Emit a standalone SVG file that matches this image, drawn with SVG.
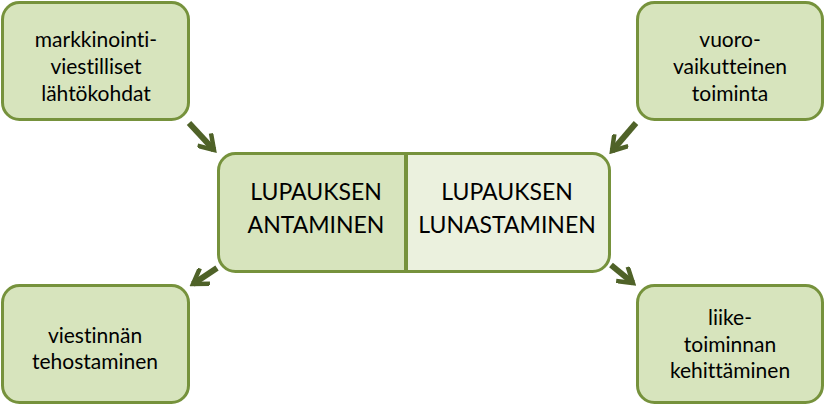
<svg xmlns="http://www.w3.org/2000/svg" width="825" height="406" viewBox="0 0 825 406">
<style>
.box{fill:#d7e4bd;stroke:#76923c;stroke-width:3}
.t{font-family:Lato,"Liberation Sans",sans-serif;font-size:21px;fill:#000;text-anchor:middle;font-variant-ligatures:none;font-feature-settings:"liga" 0,"dlig" 0}
.c{font-family:Lato,"Liberation Sans",sans-serif;font-size:23px;fill:#000;text-anchor:middle;font-variant-ligatures:none}
.arr{stroke:#4f6228;stroke-width:6;fill:none}
</style>
<defs>
<marker id="ah" viewBox="0 0 10 10" refX="8" refY="5" markerWidth="3.4" markerHeight="3.4" orient="auto" markerUnits="strokeWidth">
<path d="M1,0.5 L8,5 L1,9.5" fill="none" stroke="#4f6228" stroke-width="2.2"/>
</marker>
</defs>
<rect width="825" height="406" fill="#fff"/>
<g id="connectors">
<line class="arr" x1="189" y1="123" x2="214" y2="150" marker-end="url(#ah)"/>
<line class="arr" x1="636" y1="123" x2="612" y2="151" marker-end="url(#ah)"/>
<line class="arr" x1="217" y1="268" x2="193" y2="284" marker-end="url(#ah)"/>
<line class="arr" x1="611" y1="265" x2="633" y2="283" marker-end="url(#ah)"/>
</g>
<g id="n1">
<rect class="box" x="2.5" y="2.5" width="186" height="117" rx="17"/>
<text class="t" x="96" y="47">markkinointi-</text>
<text class="t" x="96" y="74">viestilliset</text>
<text class="t" x="96" y="101">lähtökohdat</text>
</g>
<g id="n2">
<rect class="box" x="637.5" y="2.5" width="185" height="117" rx="17"/>
<text class="t" x="730" y="47">vuoro-</text>
<text class="t" x="730" y="74">vaikutteinen</text>
<text class="t" x="730" y="101">toiminta</text>
</g>
<g id="n3">
<rect class="box" x="2.5" y="285.5" width="186" height="117" rx="17"/>
<text class="t" x="95" y="343">viestinnän</text>
<text class="t" x="95" y="369">tehostaminen</text>
</g>
<g id="n4">
<rect class="box" x="637.5" y="285.5" width="185" height="117" rx="17"/>
<text class="t" x="730" y="325">liike-</text>
<text class="t" x="730" y="352">toiminnan</text>
<text class="t" x="730" y="378">kehittäminen</text>
</g>
<g id="center">
<path d="M406,153 H235 A17,17 0 0 0 218,170 V254 A17,17 0 0 0 235,271 H406 Z" fill="#d7e4bd"/>
<path d="M406,153 H592 A17,17 0 0 1 609,170 V254 A17,17 0 0 1 592,271 H406 Z" fill="#ebf1de"/>
<rect x="218.5" y="153.5" width="391" height="118" rx="17" fill="none" stroke="#76923c" stroke-width="3"/>
<line x1="406" y1="153" x2="406" y2="271" stroke="#76923c" stroke-width="4"/>
<text class="c" x="316" y="200">LUPAUKSEN</text>
<text class="c" x="316" y="233">ANTAMINEN</text>
<text class="c" x="507" y="200">LUPAUKSEN</text>
<text class="c" x="507" y="233">LUNASTAMINEN</text>
</g>
</svg>
